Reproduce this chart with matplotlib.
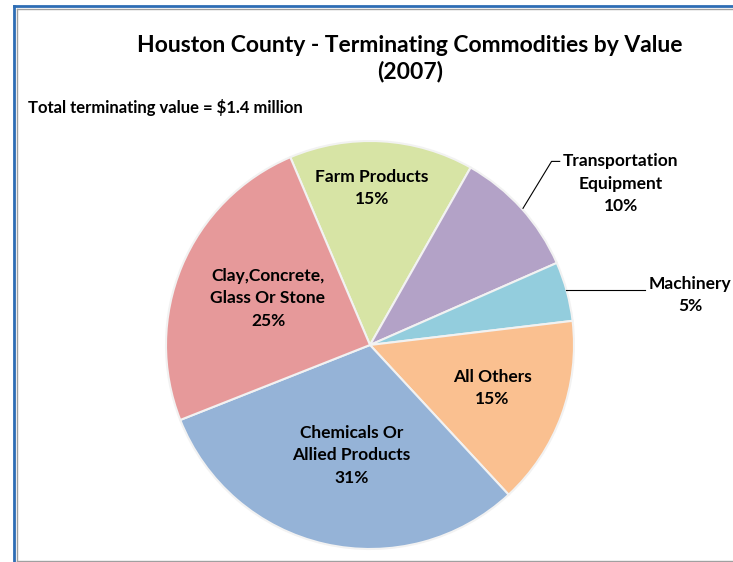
import numpy as np
import matplotlib
matplotlib.use("Agg")
import matplotlib.pyplot as plt
from matplotlib.lines import Line2D

# dados do gráfico
categorias = ["Farm Products", "Transportation\nEquipment", "Machinery",
              "All Others", "Chemicals Or\nAllied Products", "Clay,Concrete,\nGlass Or Stone"]
valores = [14.6, 10.2, 4.7, 15.0, 30.9, 24.6]
cores = ["#D7E4A5", "#B3A2C7", "#93CDDD", "#FAC090", "#95B3D7", "#E6999A"]

plt.rcParams['font.family'] = ['Lato', 'DejaVu Sans']

fig = plt.figure(figsize=(7.33, 5.62), dpi=100)

# moldura azul/cinza
fig.add_artist(Line2D([14/733, 14/733], [0, 1 - 6/562], transform=fig.transFigure, color="#2E6DB4", lw=2))
fig.add_artist(Line2D([14/733, 1], [1 - 6/562, 1 - 6/562], transform=fig.transFigure, color="#2E6DB4", lw=2))
fig.add_artist(Line2D([16.5/733, 16.5/733], [1/562, 1 - 9/562], transform=fig.transFigure, color="#A0A0A0", lw=1))
fig.add_artist(Line2D([16.5/733, 1], [1 - 9/562, 1 - 9/562], transform=fig.transFigure, color="#A0A0A0", lw=1))
fig.add_artist(Line2D([16.5/733, 1], [1/562, 1/562], transform=fig.transFigure, color="#A0A0A0", lw=1))

fig.text(410/733, 1 - 45/562, "Houston County - Terminating Commodities by Value",
         ha="center", va="center", fontsize=16.5, fontweight="bold")
fig.text(410/733, 1 - 72/562, "(2007)", ha="center", va="center", fontsize=16.5, fontweight="bold")
fig.text(28/733, 1 - 108/562, "Total terminating value = $1.4 million",
         ha="left", va="center", fontsize=12, fontweight="bold")

r = 204
cx, cy = 370, 345
ax = fig.add_axes([(cx - r)/733, (562 - cy - r)/562, 2*r/733, 2*r/562])
wedges, _ = ax.pie(valores, colors=cores, startangle=113, counterclock=False,
                   wedgeprops=dict(edgecolor="#F2F2F2", linewidth=1.5))
ax.set_xlim(-1, 1)
ax.set_ylim(-1, 1)
ax.set_aspect("equal")
ax.axis("off")

pct = [f"{round(v)}%" for v in valores]

# rótulos dentro das fatias
dentro = {0: (0.01, 0.77), 3: (0.60, -0.21), 4: (-0.09, -0.54), 5: (-0.50, 0.23)}
for i, pos in dentro.items():
    ax.text(pos[0], pos[1], f"{categorias[i]}\n{pct[i]}", ha="center", va="center",
            fontsize=12.5, fontweight="bold", linespacing=1.5)

# rótulos com linha guia
ax.plot([0.75, 0.89, 0.93], [0.67, 0.90, 0.90], color="black", lw=0.8, clip_on=False)
ax.text(1.23, 0.79, f"{categorias[1]}\n{pct[1]}", ha="center", va="center",
        fontsize=12.5, fontweight="bold", linespacing=1.5)
ax.plot([0.96, 1.35], [0.27, 0.27], color="black", lw=0.8, clip_on=False)
ax.text(1.57, 0.245, f"{categorias[2]}\n{pct[2]}", ha="center", va="center",
        fontsize=12.5, fontweight="bold", linespacing=1.5, clip_on=False)

fig.savefig("out.png", dpi=100)
